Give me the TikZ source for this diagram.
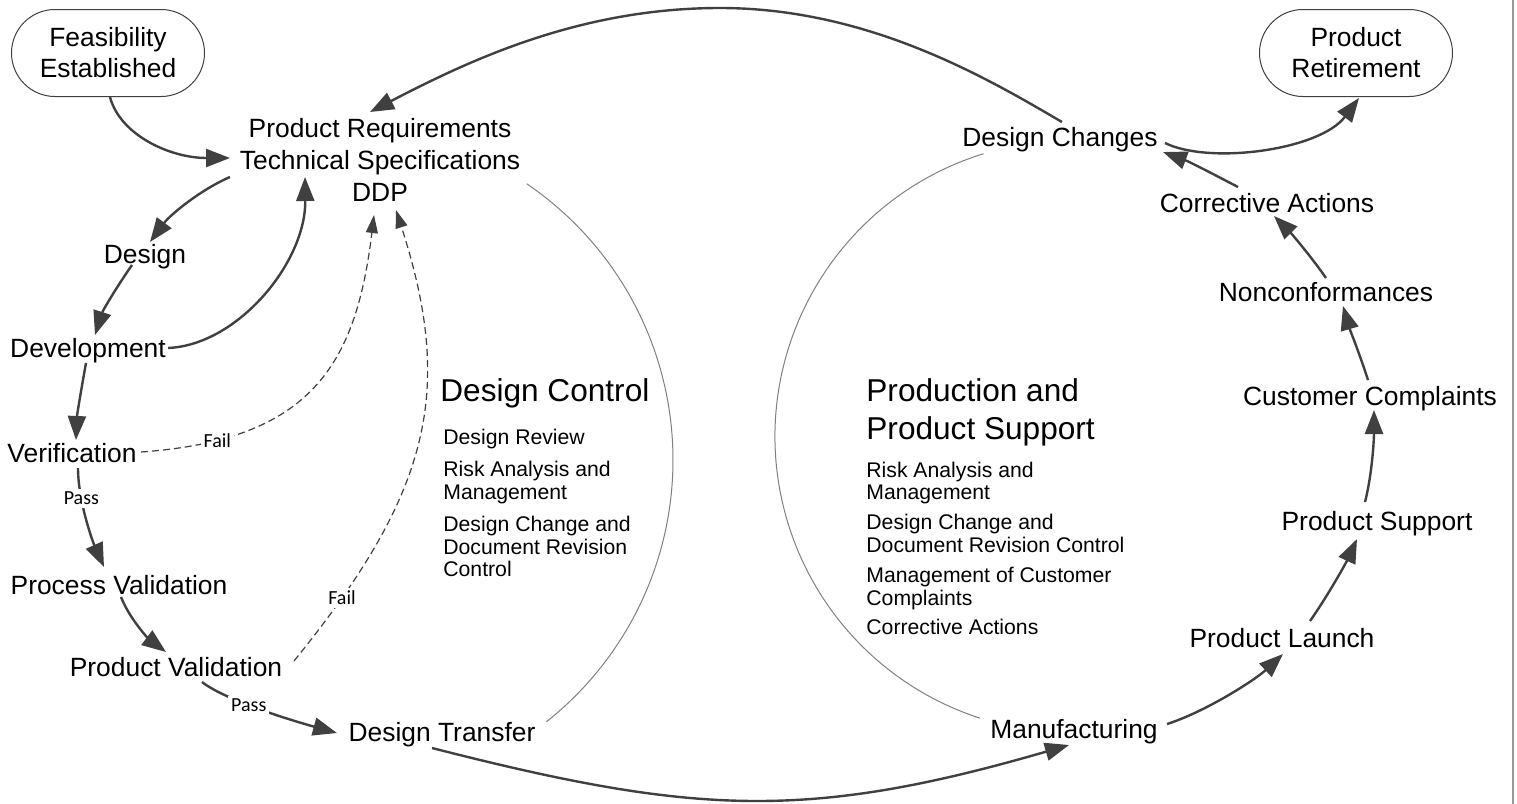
\documentclass[tikz,border=0pt]{standalone}
\usepackage{fontspec}
\setmainfont{Liberation Sans}
\newfontfamily\tagfont{Carlito}
\usetikzlibrary{arrows.meta,positioning,shapes.misc}
\definecolor{arrowgray}{HTML}{404040}

\begin{document}
\begin{tikzpicture}[x=0.5pt,y=0.5pt]
		\tikzstyle{stage}=[font=\fontsize{13.2}{16}\selectfont, inner sep=0pt, text height=9.5pt, text depth=0pt]
		\tikzstyle{multi}=[font=\fontsize{13.2}{16}\selectfont, align=center, inner sep=0pt]
		\tikzstyle{stadium}=[rounded rectangle, draw=black!75, line width=0.5pt, minimum width=96.5pt, minimum height=43.5pt, font=\fontsize{13.2}{15.5}\selectfont, align=center, inner sep=0pt]
		\tikzstyle{heading}=[font=\fontsize{15.8}{19}\selectfont, align=left, inner sep=0pt]
		\tikzstyle{items}=[font=\fontsize{10.6}{11.4}\selectfont, align=left, inner sep=0pt]
		\tikzstyle{flow}=[-{Triangle[length=12pt,width=9pt]}, line width=1.2pt, draw=arrowgray, fill=none]
		\tikzstyle{fail}=[-{Triangle[length=9pt,width=6pt]}, line width=0.6pt, draw=arrowgray, dash pattern=on 3.5pt off 2pt]
		\tikzstyle{tag}=[font=\tagfont\fontsize{10}{12}\selectfont, fill=white, inner sep=1.5pt]
		\tikzstyle{ring}=[draw=black!50, line width=0.5pt]
		\useasboundingbox (0,0) rectangle (1517,-804);
		
		\node[stadium] (feas) at (108,-53) {Feasibility\\Established};
		\node[stadium] (retire) at (1356,-53) {Product\\Retirement};
		\node[multi] (req) at (380,-160) {Product Requirements\\Technical Specifications\\DDP};
		
		\node[stage] (design) at (145,-254) {Design};
		\node[stage] (dev) at (88,-348) {Development};
		\node[stage] (verif) at (72,-453) {Verification};
		\node[stage] (procval) at (119,-585) {Process Validation};
		\node[stage] (prodval) at (176,-667) {Product Validation};
		\node[stage] (transfer) at (442,-732) {Design Transfer};
		
		\node[stage] (manuf) at (1074,-729) {Manufacturing};
		\node[stage] (launch) at (1282,-638) {Product Launch};
		\node[stage] (support) at (1377,-521) {Product Support};
		\node[stage] (complaints) at (1370,-396) {Customer Complaints};
		\node[stage] (noncon) at (1326,-292) {Nonconformances};
		\node[stage] (corrective) at (1267,-203) {Corrective Actions};
		\node[stage] (changes) at (1060,-137) {Design Changes};
		
		\node[heading, anchor=west, text height=11.3pt, text depth=0pt] (dchead) at (440,-390) {Design Control};
		\node[items] (dcitems) [below right=13.5pt and 1.5pt of dchead.south west] {Design Review\\[4.6pt]Risk Analysis and\\Management\\[4.6pt]Design Change and\\Document Revision\\Control};
		\node[heading, anchor=north west] (pshead) at (866,-378.5) {Production and\\Product Support};
		\node[items] (psitems) [below right=7.25pt and 0pt of pshead.south west] {Risk Analysis and\\Management\\[3.5pt]Design Change and\\Document Revision Control\\[3.5pt]Management of Customer\\Complaints\\[3.5pt]Corrective Actions};
		
		\draw[ring] (339,-460) ++(55.8:334) arc[start angle=55.8, end angle=-51.6, radius=334];
		\draw[ring] (1071,-436.5) ++(107.2:296) arc[start angle=107.2, end angle=252.1, radius=296];
		\draw[draw=black!40, line width=1pt] (1513,0) -- (1513,-804);
		
		\draw[flow] ([shift={(2,-44)}]feas.center) .. controls (120,-135) and (170,-158) .. ([shift={(-150,2)}]req.center);
		\draw[flow] ([shift={(2,15)}]changes.center) .. controls (990,-80) and (870,-8) .. (720,-8) .. controls (580,-8) and (470,-60) .. ([shift={(-10,48)}]req.center);
		\draw[flow] ([shift={(-150,-17)}]req.center) .. controls (200,-190) and (170,-215) .. ([shift={(5,12)}]design.center);
		\draw[flow] ([shift={(-13,-11)}]design.center) .. controls (118,-285) and (103,-310) .. ([shift={(7,13)}]dev.center);
		\draw[flow] ([shift={(80,0)}]dev.center) .. controls (238,-345) and (306,-262) .. ([shift={(-75,-17)}]req.center);
		\draw[flow] ([shift={(-2,-15)}]dev.center) .. controls (82,-385) and (77,-415) .. ([shift={(4,13)}]verif.center);
		\draw[flow] ([shift={(6,-15)}]verif.center) .. controls (78,-500) and (92,-540) .. node[tag, pos=.3] {Pass} ([shift={(-15,18)}]procval.center);
		\draw[flow] ([shift={(2,-12)}]procval.center) .. controls (130,-620) and (150,-640) .. ([shift={(-10,15)}]prodval.center);
		\draw[flow] ([shift={(26,-15)}]prodval.center) .. controls (225,-700) and (290,-720) .. node[tag, pos=.42] {Pass} ([shift={(-105,-1)}]transfer.center);
		\draw[flow] ([shift={(-10,-16)}]transfer.center) .. controls (694,-815) and (807,-821) .. ([shift={(-5,-16)}]manuf.center);
		
		\draw[flow] ([shift={(93,5)}]manuf.center) .. controls (1205,-712) and (1255,-680) .. ([shift={(1,-16)}]launch.center);
		\draw[flow] ([shift={(28,17)}]launch.center) .. controls (1325,-600) and (1345,-565) .. ([shift={(-20,-18)}]support.center);
		\draw[flow] ([shift={(-12,19)}]support.center) .. controls (1372,-475) and (1374,-440) .. ([shift={(4,-14)}]complaints.center);
		\draw[flow] ([shift={(-2,16)}]complaints.center) .. controls (1360,-355) and (1350,-330) .. ([shift={(17,-14)}]noncon.center);
		\draw[flow] ([shift={(0,14)}]noncon.center) .. controls (1310,-255) and (1290,-232) .. ([shift={(7,-13)}]corrective.center);
		\draw[flow] ([shift={(-29,16)}]corrective.center) .. controls (1215,-175) and (1190,-162) .. ([shift={(103,-15)}]changes.center);
		\draw[flow] ([shift={(105,-6)}]changes.center) .. controls (1210,-165) and (1320,-150) .. ([shift={(3,-45)}]retire.center);
		
		\draw[fail] ([shift={(69,1)}]verif.center) .. controls (311,-440) and (356,-365) .. node[tag, pos=.17] {Fail} ([shift={(-6,-55)}]req.center);
		\draw[fail] ([shift={(118,6)}]prodval.center) .. controls (432,-491) and (454,-390) .. node[tag, pos=.13] {Fail} ([shift={(16,-50)}]req.center);
	\end{tikzpicture}
\end{document}
